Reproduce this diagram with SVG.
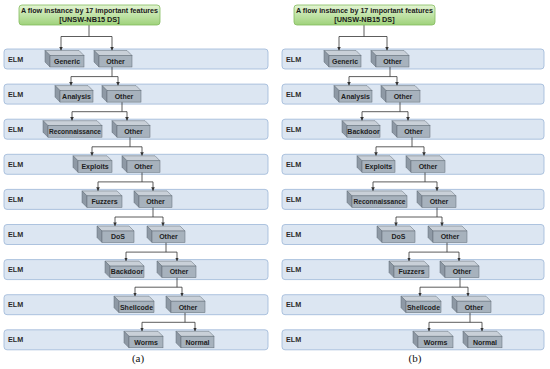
<svg xmlns="http://www.w3.org/2000/svg" width="550" height="369" viewBox="0 0 550 369">
<defs>
<linearGradient id="gTitle" x1="0" y1="0" x2="0" y2="1">
<stop offset="0" stop-color="#e3f4d3"/>
<stop offset="1" stop-color="#9fd27b"/>
</linearGradient>
<marker id="arr" viewBox="0 0 7 7" refX="7" refY="3.5" markerWidth="3.6" markerHeight="3.6" markerUnits="userSpaceOnUse" orient="auto-start-reverse">
<path d="M0,0 L7,3.5 L0,7 z" fill="#333"/>
</marker>
<style>
.band{fill:#dce6f2;stroke:#9cb6d8;stroke-width:0.8}
.elm{font-family:"Liberation Sans",Arial,sans-serif;font-weight:bold;font-size:7.2px;fill:#2b2b2b}
.title{fill:url(#gTitle);stroke:#84bb5e;stroke-width:0.8}
.ttxt{font-family:"Liberation Sans",Arial,sans-serif;font-weight:bold;font-size:7.3px;fill:#1a1a1a;text-anchor:middle}
.top{fill:#c9d0d8;stroke:#5f6a75;stroke-width:0.5;stroke-linejoin:round}
.side{fill:#8e99a5;stroke:#5f6a75;stroke-width:0.5;stroke-linejoin:round}
.front{fill:#a7b2bd;stroke:#5f6a75;stroke-width:0.5}
.lbl{font-family:"Liberation Sans",Arial,sans-serif;font-weight:bold;font-size:7px;fill:#1e1e1e;text-anchor:middle}
.lbls{font-size:6.6px}
.cap{font-family:"Liberation Serif","Times New Roman",serif;font-size:11px;fill:#111;text-anchor:middle}
.con{fill:none;stroke:#333;stroke-width:0.8}
</style>
</defs>
<rect width="550" height="369" fill="#ffffff"/>

<g id="bands">
<rect class="band" x="4" y="49" width="264" height="20" rx="3"/>
<rect class="band" x="4" y="84.1" width="264" height="20" rx="3"/>
<rect class="band" x="4" y="119.2" width="264" height="20" rx="3"/>
<rect class="band" x="4" y="154.3" width="264" height="20" rx="3"/>
<rect class="band" x="4" y="189.4" width="264" height="20" rx="3"/>
<rect class="band" x="4" y="224.5" width="264" height="20" rx="3"/>
<rect class="band" x="4" y="259.6" width="264" height="20" rx="3"/>
<rect class="band" x="4" y="294.7" width="264" height="20" rx="3"/>
<rect class="band" x="4" y="329.8" width="264" height="20" rx="3"/>
<rect class="band" x="282" y="49" width="262" height="20" rx="3"/>
<rect class="band" x="282" y="84.1" width="262" height="20" rx="3"/>
<rect class="band" x="282" y="119.2" width="262" height="20" rx="3"/>
<rect class="band" x="282" y="154.3" width="262" height="20" rx="3"/>
<rect class="band" x="282" y="189.4" width="262" height="20" rx="3"/>
<rect class="band" x="282" y="224.5" width="262" height="20" rx="3"/>
<rect class="band" x="282" y="259.6" width="262" height="20" rx="3"/>
<rect class="band" x="282" y="294.7" width="262" height="20" rx="3"/>
<rect class="band" x="282" y="329.8" width="262" height="20" rx="3"/>
<text class="elm" x="8" y="61.5">ELM</text>
<text class="elm" x="8" y="96.6">ELM</text>
<text class="elm" x="8" y="131.7">ELM</text>
<text class="elm" x="8" y="166.8">ELM</text>
<text class="elm" x="8" y="201.9">ELM</text>
<text class="elm" x="8" y="237">ELM</text>
<text class="elm" x="8" y="272.1">ELM</text>
<text class="elm" x="8" y="307.2">ELM</text>
<text class="elm" x="8" y="342.3">ELM</text>
<text class="elm" x="286" y="61.5">ELM</text>
<text class="elm" x="286" y="96.6">ELM</text>
<text class="elm" x="286" y="131.7">ELM</text>
<text class="elm" x="286" y="166.8">ELM</text>
<text class="elm" x="286" y="201.9">ELM</text>
<text class="elm" x="286" y="237">ELM</text>
<text class="elm" x="286" y="272.1">ELM</text>
<text class="elm" x="286" y="307.2">ELM</text>
<text class="elm" x="286" y="342.3">ELM</text>
</g>

<g id="connectors">
<path class="con" d="M89,25 V36.5"/>
<path class="con" d="M61,50.5 V36.5 H112 V50.5" marker-start="url(#arr)" marker-end="url(#arr)"/>
<path class="con" d="M112,67 V76.6"/>
<path class="con" d="M71,85.6 V76.6 H118 V85.6" marker-start="url(#arr)" marker-end="url(#arr)"/>
<path class="con" d="M122,102.1 V111.7"/>
<path class="con" d="M72,120.7 V111.7 H127 V120.7" marker-start="url(#arr)" marker-end="url(#arr)"/>
<path class="con" d="M130,137.2 V146.8"/>
<path class="con" d="M92,155.8 V146.8 H142 V155.8" marker-start="url(#arr)" marker-end="url(#arr)"/>
<path class="con" d="M142,172.3 V181.9"/>
<path class="con" d="M98,190.9 V181.9 H153 V190.9" marker-start="url(#arr)" marker-end="url(#arr)"/>
<path class="con" d="M153,207.4 V217"/>
<path class="con" d="M115,226 V217 H163 V226" marker-start="url(#arr)" marker-end="url(#arr)"/>
<path class="con" d="M166,242.5 V252.1"/>
<path class="con" d="M126,261.1 V252.1 H177 V261.1" marker-start="url(#arr)" marker-end="url(#arr)"/>
<path class="con" d="M177,277.6 V287.2"/>
<path class="con" d="M135,296.2 V287.2 H182 V296.2" marker-start="url(#arr)" marker-end="url(#arr)"/>
<path class="con" d="M185,312.7 V322.3"/>
<path class="con" d="M142,331.3 V322.3 H195 V331.3" marker-start="url(#arr)" marker-end="url(#arr)"/>
<path class="con" d="M364,25 V36.5"/>
<path class="con" d="M339,50.5 V36.5 H387 V50.5" marker-start="url(#arr)" marker-end="url(#arr)"/>
<path class="con" d="M390,67 V76.6"/>
<path class="con" d="M349,85.6 V76.6 H397 V85.6" marker-start="url(#arr)" marker-end="url(#arr)"/>
<path class="con" d="M400,102.1 V111.7"/>
<path class="con" d="M362,120.7 V111.7 H408 V120.7" marker-start="url(#arr)" marker-end="url(#arr)"/>
<path class="con" d="M412,137.2 V146.8"/>
<path class="con" d="M376,155.8 V146.8 H424 V155.8" marker-start="url(#arr)" marker-end="url(#arr)"/>
<path class="con" d="M425,172.3 V181.9"/>
<path class="con" d="M373,190.9 V181.9 H437 V190.9" marker-start="url(#arr)" marker-end="url(#arr)"/>
<path class="con" d="M437,207.4 V217"/>
<path class="con" d="M396,226 V217 H442 V226" marker-start="url(#arr)" marker-end="url(#arr)"/>
<path class="con" d="M447,242.5 V252.1"/>
<path class="con" d="M409,261.1 V252.1 H459 V261.1" marker-start="url(#arr)" marker-end="url(#arr)"/>
<path class="con" d="M460,277.6 V287.2"/>
<path class="con" d="M420,296.2 V287.2 H468 V296.2" marker-start="url(#arr)" marker-end="url(#arr)"/>
<path class="con" d="M470,312.7 V322.3"/>
<path class="con" d="M429,331.3 V322.3 H482 V331.3" marker-start="url(#arr)" marker-end="url(#arr)"/>
</g>

<g id="titleA">
<rect class="title" x="19" y="5" width="141" height="20" rx="3"/>
<text class="ttxt" x="89.5" y="13" textLength="137" lengthAdjust="spacingAndGlyphs">A flow instance by 17 important features</text>
<text class="ttxt" x="89.5" y="22.3">[UNSW-NB15 DS]</text>
</g>
<g id="titleB">
<rect class="title" x="294" y="5" width="141" height="20" rx="3"/>
<text class="ttxt" x="364.5" y="13" textLength="137" lengthAdjust="spacingAndGlyphs">A flow instance by 17 important features</text>
<text class="ttxt" x="364.5" y="22.3">[UNSW-NB15 DS]</text>
</g>

<g id="a-generic" transform="translate(45,49)"><polygon class="top" points="0,1.5 34,1.5 39,6.5 5,6.5"/><polygon class="side" points="0,1.5 5,6.5 5,18 0,13"/><rect class="front" x="5" y="6.5" width="34" height="11.5"/><text class="lbl" x="22" y="14.9">Generic</text></g>
<g id="a-other1" transform="translate(94,49)"><polygon class="top" points="0,1.5 33,1.5 38,6.5 5,6.5"/><polygon class="side" points="0,1.5 5,6.5 5,18 0,13"/><rect class="front" x="5" y="6.5" width="33" height="11.5"/><text class="lbl" x="21.5" y="14.9">Other</text></g>
<g id="a-analysis" transform="translate(55,84.1)"><polygon class="top" points="0,1.5 33,1.5 38,6.5 5,6.5"/><polygon class="side" points="0,1.5 5,6.5 5,18 0,13"/><rect class="front" x="5" y="6.5" width="33" height="11.5"/><text class="lbl" x="21.5" y="14.9">Analysis</text></g>
<g id="a-other2" transform="translate(102,84.1)"><polygon class="top" points="0,1.5 34,1.5 39,6.5 5,6.5"/><polygon class="side" points="0,1.5 5,6.5 5,18 0,13"/><rect class="front" x="5" y="6.5" width="34" height="11.5"/><text class="lbl" x="22" y="14.9">Other</text></g>
<g id="a-recon" transform="translate(43,119.2)"><polygon class="top" points="0,1.5 54,1.5 59,6.5 5,6.5"/><polygon class="side" points="0,1.5 5,6.5 5,18 0,13"/><rect class="front" x="5" y="6.5" width="54" height="11.5"/><text class="lbl lbls" x="32" y="14.9">Reconnaissance</text></g>
<g id="a-other3" transform="translate(112,119.2)"><polygon class="top" points="0,1.5 33,1.5 38,6.5 5,6.5"/><polygon class="side" points="0,1.5 5,6.5 5,18 0,13"/><rect class="front" x="5" y="6.5" width="33" height="11.5"/><text class="lbl" x="21.5" y="14.9">Other</text></g>
<g id="a-exploits" transform="translate(73,154.3)"><polygon class="top" points="0,1.5 34,1.5 39,6.5 5,6.5"/><polygon class="side" points="0,1.5 5,6.5 5,18 0,13"/><rect class="front" x="5" y="6.5" width="34" height="11.5"/><text class="lbl" x="22" y="14.9">Exploits</text></g>
<g id="a-other4" transform="translate(122,154.3)"><polygon class="top" points="0,1.5 33,1.5 38,6.5 5,6.5"/><polygon class="side" points="0,1.5 5,6.5 5,18 0,13"/><rect class="front" x="5" y="6.5" width="33" height="11.5"/><text class="lbl" x="21.5" y="14.9">Other</text></g>
<g id="a-fuzzers" transform="translate(82,189.4)"><polygon class="top" points="0,1.5 35,1.5 40,6.5 5,6.5"/><polygon class="side" points="0,1.5 5,6.5 5,18 0,13"/><rect class="front" x="5" y="6.5" width="35" height="11.5"/><text class="lbl" x="22.5" y="14.9">Fuzzers</text></g>
<g id="a-other5" transform="translate(134,189.4)"><polygon class="top" points="0,1.5 33,1.5 38,6.5 5,6.5"/><polygon class="side" points="0,1.5 5,6.5 5,18 0,13"/><rect class="front" x="5" y="6.5" width="33" height="11.5"/><text class="lbl" x="21.5" y="14.9">Other</text></g>
<g id="a-dos" transform="translate(97,224.5)"><polygon class="top" points="0,1.5 32,1.5 37,6.5 5,6.5"/><polygon class="side" points="0,1.5 5,6.5 5,18 0,13"/><rect class="front" x="5" y="6.5" width="32" height="11.5"/><text class="lbl" x="21" y="14.9">DoS</text></g>
<g id="a-other6" transform="translate(147,224.5)"><polygon class="top" points="0,1.5 33,1.5 38,6.5 5,6.5"/><polygon class="side" points="0,1.5 5,6.5 5,18 0,13"/><rect class="front" x="5" y="6.5" width="33" height="11.5"/><text class="lbl" x="21.5" y="14.9">Other</text></g>
<g id="a-backdoor" transform="translate(105,259.6)"><polygon class="top" points="0,1.5 34,1.5 39,6.5 5,6.5"/><polygon class="side" points="0,1.5 5,6.5 5,18 0,13"/><rect class="front" x="5" y="6.5" width="34" height="11.5"/><text class="lbl" x="22" y="14.9">Backdoor</text></g>
<g id="a-other7" transform="translate(157,259.6)"><polygon class="top" points="0,1.5 34,1.5 39,6.5 5,6.5"/><polygon class="side" points="0,1.5 5,6.5 5,18 0,13"/><rect class="front" x="5" y="6.5" width="34" height="11.5"/><text class="lbl" x="22" y="14.9">Other</text></g>
<g id="a-shellcode" transform="translate(114,294.7)"><polygon class="top" points="0,1.5 35,1.5 40,6.5 5,6.5"/><polygon class="side" points="0,1.5 5,6.5 5,18 0,13"/><rect class="front" x="5" y="6.5" width="35" height="11.5"/><text class="lbl" x="22.5" y="14.9">Shellcode</text></g>
<g id="a-other8" transform="translate(166,294.7)"><polygon class="top" points="0,1.5 34,1.5 39,6.5 5,6.5"/><polygon class="side" points="0,1.5 5,6.5 5,18 0,13"/><rect class="front" x="5" y="6.5" width="34" height="11.5"/><text class="lbl" x="22" y="14.9">Other</text></g>
<g id="a-worms" transform="translate(124,329.8)"><polygon class="top" points="0,1.5 34,1.5 39,6.5 5,6.5"/><polygon class="side" points="0,1.5 5,6.5 5,18 0,13"/><rect class="front" x="5" y="6.5" width="34" height="11.5"/><text class="lbl" x="22" y="14.9">Worms</text></g>
<g id="a-normal" transform="translate(176,329.8)"><polygon class="top" points="0,1.5 33,1.5 38,6.5 5,6.5"/><polygon class="side" points="0,1.5 5,6.5 5,18 0,13"/><rect class="front" x="5" y="6.5" width="33" height="11.5"/><text class="lbl" x="21.5" y="14.9">Normal</text></g>

<g id="b-generic" transform="translate(324,49)"><polygon class="top" points="0,1.5 32,1.5 37,6.5 5,6.5"/><polygon class="side" points="0,1.5 5,6.5 5,18 0,13"/><rect class="front" x="5" y="6.5" width="32" height="11.5"/><text class="lbl" x="21" y="14.9">Generic</text></g>
<g id="b-other1" transform="translate(371,49)"><polygon class="top" points="0,1.5 33,1.5 38,6.5 5,6.5"/><polygon class="side" points="0,1.5 5,6.5 5,18 0,13"/><rect class="front" x="5" y="6.5" width="33" height="11.5"/><text class="lbl" x="21.5" y="14.9">Other</text></g>
<g id="b-analysis" transform="translate(334,84.1)"><polygon class="top" points="0,1.5 33,1.5 38,6.5 5,6.5"/><polygon class="side" points="0,1.5 5,6.5 5,18 0,13"/><rect class="front" x="5" y="6.5" width="33" height="11.5"/><text class="lbl" x="21.5" y="14.9">Analysis</text></g>
<g id="b-other2" transform="translate(381,84.1)"><polygon class="top" points="0,1.5 34,1.5 39,6.5 5,6.5"/><polygon class="side" points="0,1.5 5,6.5 5,18 0,13"/><rect class="front" x="5" y="6.5" width="34" height="11.5"/><text class="lbl" x="22" y="14.9">Other</text></g>
<g id="b-backdoor" transform="translate(342,119.2)"><polygon class="top" points="0,1.5 33,1.5 38,6.5 5,6.5"/><polygon class="side" points="0,1.5 5,6.5 5,18 0,13"/><rect class="front" x="5" y="6.5" width="33" height="11.5"/><text class="lbl" x="21.5" y="14.9">Backdoor</text></g>
<g id="b-other3" transform="translate(392,119.2)"><polygon class="top" points="0,1.5 33,1.5 38,6.5 5,6.5"/><polygon class="side" points="0,1.5 5,6.5 5,18 0,13"/><rect class="front" x="5" y="6.5" width="33" height="11.5"/><text class="lbl" x="21.5" y="14.9">Other</text></g>
<g id="b-exploits" transform="translate(357,154.3)"><polygon class="top" points="0,1.5 33,1.5 38,6.5 5,6.5"/><polygon class="side" points="0,1.5 5,6.5 5,18 0,13"/><rect class="front" x="5" y="6.5" width="33" height="11.5"/><text class="lbl" x="21.5" y="14.9">Exploits</text></g>
<g id="b-other4" transform="translate(406,154.3)"><polygon class="top" points="0,1.5 34,1.5 39,6.5 5,6.5"/><polygon class="side" points="0,1.5 5,6.5 5,18 0,13"/><rect class="front" x="5" y="6.5" width="34" height="11.5"/><text class="lbl" x="22" y="14.9">Other</text></g>
<g id="b-recon" transform="translate(347,189.4)"><polygon class="top" points="0,1.5 55,1.5 60,6.5 5,6.5"/><polygon class="side" points="0,1.5 5,6.5 5,18 0,13"/><rect class="front" x="5" y="6.5" width="55" height="11.5"/><text class="lbl lbls" x="32.5" y="14.9">Reconnaissance</text></g>
<g id="b-other5" transform="translate(417,189.4)"><polygon class="top" points="0,1.5 34,1.5 39,6.5 5,6.5"/><polygon class="side" points="0,1.5 5,6.5 5,18 0,13"/><rect class="front" x="5" y="6.5" width="34" height="11.5"/><text class="lbl" x="22" y="14.9">Other</text></g>
<g id="b-dos" transform="translate(377,224.5)"><polygon class="top" points="0,1.5 33,1.5 38,6.5 5,6.5"/><polygon class="side" points="0,1.5 5,6.5 5,18 0,13"/><rect class="front" x="5" y="6.5" width="33" height="11.5"/><text class="lbl" x="21.5" y="14.9">DoS</text></g>
<g id="b-other6" transform="translate(428,224.5)"><polygon class="top" points="0,1.5 34,1.5 39,6.5 5,6.5"/><polygon class="side" points="0,1.5 5,6.5 5,18 0,13"/><rect class="front" x="5" y="6.5" width="34" height="11.5"/><text class="lbl" x="22" y="14.9">Other</text></g>
<g id="b-fuzzers" transform="translate(389,259.6)"><polygon class="top" points="0,1.5 35,1.5 40,6.5 5,6.5"/><polygon class="side" points="0,1.5 5,6.5 5,18 0,13"/><rect class="front" x="5" y="6.5" width="35" height="11.5"/><text class="lbl" x="22.5" y="14.9">Fuzzers</text></g>
<g id="b-other7" transform="translate(440,259.6)"><polygon class="top" points="0,1.5 34,1.5 39,6.5 5,6.5"/><polygon class="side" points="0,1.5 5,6.5 5,18 0,13"/><rect class="front" x="5" y="6.5" width="34" height="11.5"/><text class="lbl" x="22" y="14.9">Other</text></g>
<g id="b-shellcode" transform="translate(401,294.7)"><polygon class="top" points="0,1.5 35,1.5 40,6.5 5,6.5"/><polygon class="side" points="0,1.5 5,6.5 5,18 0,13"/><rect class="front" x="5" y="6.5" width="35" height="11.5"/><text class="lbl" x="22.5" y="14.9">Shellcode</text></g>
<g id="b-other8" transform="translate(452,294.7)"><polygon class="top" points="0,1.5 34,1.5 39,6.5 5,6.5"/><polygon class="side" points="0,1.5 5,6.5 5,18 0,13"/><rect class="front" x="5" y="6.5" width="34" height="11.5"/><text class="lbl" x="22" y="14.9">Other</text></g>
<g id="b-worms" transform="translate(413,329.8)"><polygon class="top" points="0,1.5 35,1.5 40,6.5 5,6.5"/><polygon class="side" points="0,1.5 5,6.5 5,18 0,13"/><rect class="front" x="5" y="6.5" width="35" height="11.5"/><text class="lbl" x="22.5" y="14.9">Worms</text></g>
<g id="b-normal" transform="translate(463,329.8)"><polygon class="top" points="0,1.5 34,1.5 39,6.5 5,6.5"/><polygon class="side" points="0,1.5 5,6.5 5,18 0,13"/><rect class="front" x="5" y="6.5" width="34" height="11.5"/><text class="lbl" x="22" y="14.9">Normal</text></g>

<text class="cap" x="138" y="361.5">(a)</text>
<text class="cap" x="415" y="361.5">(b)</text>
</svg>
